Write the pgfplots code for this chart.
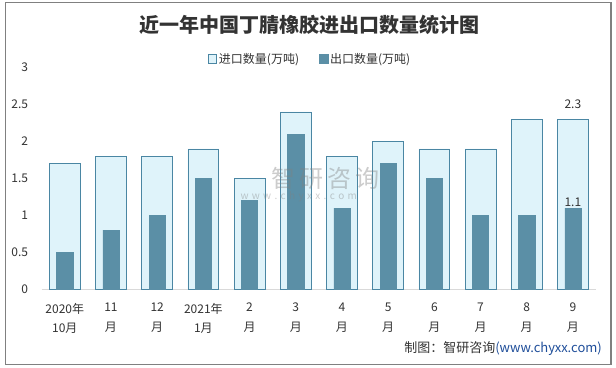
\documentclass[border=0pt]{standalone}
\usepackage{pgfplots}
\pgfplotsset{compat=1.18}
\usepackage{fontspec}
\setmainfont{Noto Sans CJK SC}
\definecolor{impfill}{RGB}{223,243,250}
\definecolor{impdraw}{RGB}{74,134,163}
\definecolor{expfill}{RGB}{91,143,166}
\definecolor{txt}{RGB}{51,51,51}
\definecolor{bordergray}{RGB}{128,128,128}
\definecolor{axgray}{RGB}{217,217,217}
\definecolor{srcblue}{RGB}{31,78,154}
\begin{document}
\begin{tikzpicture}[x=1pt,y=1pt]
\useasboundingbox (0,0) rectangle (616,367);
\fill[white] (0,0) rectangle (616,367);
\draw[bordergray, line width=1.2pt] (5.5,2.7) rectangle (611,364.7);
\begin{axis}[
  at={(41.7pt,77.7pt)}, anchor=south west,
  scale only axis, width=554.3pt, height=221.7pt,
  xmin=-0.5, xmax=11.5, ymin=0, ymax=3,
  axis x line*=bottom, axis y line*=left,
  axis line style={-},
  x axis line style={draw=axgray, line width=0.9pt},
  y axis line style={draw=none},
  major tick length=0pt,
  ytick={0,0.5,1,1.5,2,2.5,3},
  xtick={0,...,11},
  xticklabels={{2020年\\10月},{11\\月},{12\\月},{2021年\\1月},{2\\月},{3\\月},{4\\月},{5\\月},{6\\月},{7\\月},{8\\月},{9\\月}},
  /pgf/number format/assume math mode=true,
  yticklabel style={anchor=east, inner sep=0pt, xshift=-13.5pt, font=\fontsize{12}{14}\selectfont, text=txt},
  xticklabel style={align=center, anchor=north, inner sep=0pt, yshift=-13.5pt, font=\fontsize{12}{19.5}\selectfont, text=txt},
  legend style={at={(0.484,1.039)}, anchor=center, draw=none, fill=none, legend columns=2,
    font=\fontsize{12}{14}\selectfont, text=txt,
    /tikz/every even column/.append style={column sep=18pt}},
  legend image code/.code={\draw[#1] (0pt,-4pt) rectangle (8.5pt,4.5pt);},
  clip=false,
]
\addplot[ybar, bar width=0.667, bar shift=0pt, fill=impfill, draw=impdraw, line width=0.7pt]
  coordinates {(0,1.7) (1,1.8) (2,1.8) (3,1.9) (4,1.5) (5,2.4) (6,1.8) (7,2.0) (8,1.9) (9,1.9) (10,2.3) (11,2.3)};
\addlegendentry{进口数量(万吨)}
\addplot[ybar, bar width=0.35, bar shift=0pt, fill=expfill, draw=expfill, line width=0.5pt]
  coordinates {(0,0.5) (1,0.8) (2,1.0) (3,1.5) (4,1.2) (5,2.1) (6,1.1) (7,1.7) (8,1.5) (9,1.0) (10,1.0) (11,1.1)};
\addlegendentry{出口数量(万吨)}
\addplot[draw=none, mark=none, nodes near coords, point meta=explicit symbolic,
  every node near coord/.append style={font=\fontsize{12}{14}\selectfont, text=txt, anchor=south, inner sep=0pt, yshift=10pt}]
  coordinates {(11,2.3) [2.3]};
\addplot[draw=none, mark=none, nodes near coords, point meta=explicit symbolic,
  every node near coord/.append style={font=\fontsize{12}{14}\selectfont, text=txt, anchor=south, inner sep=0pt, yshift=1pt}]
  coordinates {(11,1.1) [1.1]};
\end{axis}
% title
\node[font=\fontsize{20}{24}\selectfont\bfseries, text=txt] at (309,342) {近一年中国丁腈橡胶进出口数量统计图};
% watermark
\node[font=\fontsize{24}{26}\selectfont, text=gray, opacity=0.4, anchor=west] at (268,189) {智\,研\,咨\,询};
\node[font=\fontsize{10}{12}\selectfont, text=gray, opacity=0.4, anchor=west] at (237,170) {w\,\,w\,\,w\,\,.\,\,c\,\,h\,\,y\,\,x\,\,x\,\,.\,\,c\,\,o\,\,m};
% source
\node[anchor=east, font=\fontsize{13}{15}\selectfont, inner sep=0pt] at (602,18) {\textcolor{txt}{制图：智研咨询}\textcolor{srcblue}{(www.chyxx.com)}};
\end{tikzpicture}
\end{document}
